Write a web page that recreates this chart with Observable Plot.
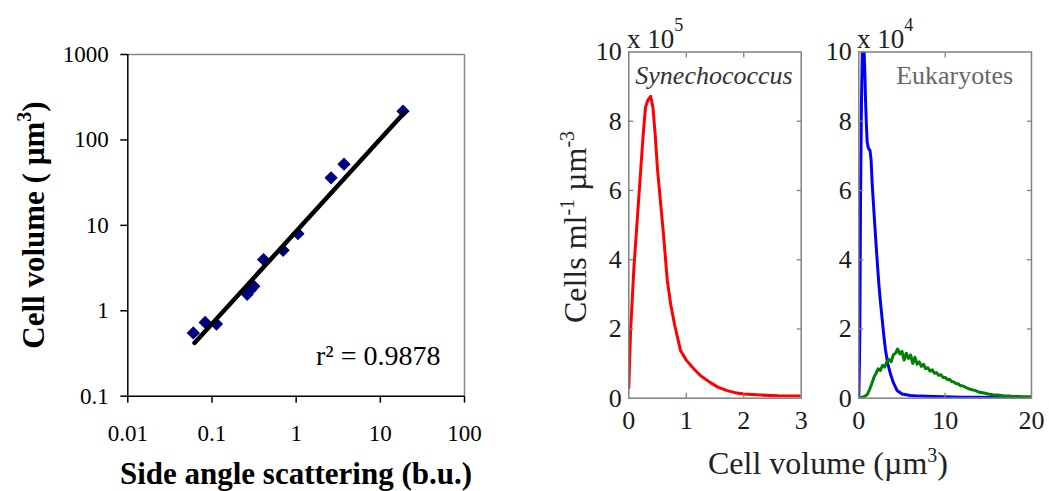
<!DOCTYPE html>
<html><head><meta charset="utf-8">
<script src="https://cdn.jsdelivr.net/npm/d3@7"></script>
<script src="https://cdn.jsdelivr.net/npm/@observablehq/plot@0.6"></script>
<style>
body{margin:0;background:#fff;}
#wrap{position:relative;width:1049px;height:491px;overflow:hidden;font-family:"Liberation Serif","Times New Roman",serif;background:#fff;}
#wrap svg{position:absolute;max-width:none;overflow:visible;background:transparent;}
#wrap svg text{font-family:"Liberation Serif","Times New Roman",serif;}
.t{position:absolute;white-space:nowrap;line-height:1;color:#111;}
</style></head><body><div id="wrap"></div>
<script>
// ---------- Panel A: scatter (log-log) ----------
const scatterX = [0.060, 0.083, 0.113, 0.262, 0.285, 0.314, 0.41, 0.70, 1.05, 2.6, 3.7, 18.6];
const scatterY = [0.55, 0.73, 0.70, 1.56, 1.75, 1.94, 3.97, 5.1, 8.0, 36, 52, 217];
const fitX = [0.062, 19.0];
const fitY = [0.42, 205];
const aXTicks = [0.01, 0.1, 1, 10, 100];
const aXLabels = ["0.01", "0.1", "1", "10", "100"];
const aYTicks = [0.1, 1, 10, 100, 1000];
const aYLabels = ["0.1", "1", "10", "100", "1000"];
const r2Label = "r² = 0.9878";

// ---------- Panel B: Synechococcus (x 10^5) ----------
const synX = [0, 0.03, 0.09, 0.17, 0.25, 0.29, 0.33, 0.38, 0.42, 0.46, 0.5, 0.55, 0.6, 0.67, 0.73, 0.8, 0.9, 1.0, 1.13, 1.25, 1.42, 1.55, 1.71, 1.85, 2.0, 2.3, 2.6, 3.0];
const synY = [0.3, 1.9, 3.8, 5.7, 7.6, 8.4, 8.6, 8.72, 8.4, 7.6, 6.6, 5.7, 4.8, 3.4, 2.7, 2.1, 1.38, 1.1, 0.85, 0.65, 0.45, 0.32, 0.22, 0.16, 0.12, 0.09, 0.07, 0.06];
const bXTicks = [0, 1, 2, 3];
const bXLabels = ["0", "1", "2", "3"];
const bYTicks = [0, 2, 4, 6, 8, 10];
const bYLabels = ["0", "2", "4", "6", "8", "10"];

// ---------- Panel C: Eukaryotes (x 10^4) ----------
const blueX = [0, 0.06, 0.12, 0.2, 0.31, 0.43, 0.58, 0.7, 0.78, 0.88, 0.97, 1.08, 1.16, 1.3, 1.42, 1.55, 1.75, 1.93, 2.12, 2.32, 2.5, 2.7, 2.9, 3.09, 3.35, 3.67, 4.0, 4.44, 5.0, 5.98, 7, 8.7, 10, 12, 14, 16, 18, 20];
const blueY = [0, 0.8, 1.9, 5.7, 8.6, 10.3, 10.3, 9.4, 8.6, 7.9, 7.4, 7.25, 7.2, 7.15, 6.9, 6.2, 5.4, 4.7, 4.0, 3.3, 2.8, 2.3, 1.8, 1.4, 1.0, 0.7, 0.45, 0.22, 0.12, 0.08, 0.06, 0.05, 0.04, 0.03, 0.03, 0.02, 0.02, 0.02];
const greenX = [0, 0.25, 0.5, 0.75, 1.0, 1.25, 1.5, 1.75, 2.0, 2.25, 2.5, 2.75, 3.0, 3.25, 3.5, 3.75, 4.0, 4.25, 4.5, 4.75, 5.0, 5.25, 5.5, 5.75, 6.0, 6.25, 6.5, 6.75, 7.0, 7.25, 7.5, 7.75, 8.0, 8.25, 8.5, 8.75, 9.0, 9.25, 9.5, 9.75, 10.0, 10.25, 10.5, 10.75, 11.0, 11.25, 11.5, 11.75, 12.0, 12.5, 13, 13.5, 14, 14.5, 15, 15.5, 16, 16.5, 17, 17.5, 18, 18.5, 19, 19.5, 20];
const greenY = [0.02, 0.02, 0.04, 0.06, 0.12, 0.25, 0.42, 0.6, 0.72, 0.85, 0.8, 0.95, 0.9, 1.05, 1.12, 1.05, 1.25, 1.3, 1.42, 1.28, 1.35, 1.1, 1.3, 1.15, 1.25, 1.0, 1.18, 0.98, 1.05, 0.92, 0.98, 0.85, 0.88, 0.78, 0.82, 0.72, 0.74, 0.66, 0.68, 0.6, 0.6, 0.54, 0.55, 0.48, 0.47, 0.42, 0.42, 0.36, 0.36, 0.3, 0.25, 0.22, 0.17, 0.15, 0.12, 0.1, 0.09, 0.08, 0.06, 0.06, 0.05, 0.05, 0.04, 0.04, 0.04];
const cXTicks = [0, 10, 20];
const cXLabels = ["0", "10", "20"];
const cYTicks = [0, 2, 4, 6, 8, 10];
const cYLabels = ["0", "2", "4", "6", "8", "10"];

const zip = (xs, ys) => xs.map((x, i) => ({x, y: ys[i]}));
const wrap = document.getElementById("wrap");
const FONT = "'Liberation Serif', 'Times New Roman', serif";

// Panel A
const plotA = Plot.plot({
  width: 490, height: 491,
  marginLeft: 127.3, marginRight: 26, marginTop: 54, marginBottom: 95.3,
  style: {fontFamily: FONT, fontSize: "23px", color: "#000", background: "transparent"},
  x: {type: "log", domain: [0.01, 100]},
  y: {type: "log", domain: [0.1, 1000]},
  marks: [
    Plot.ruleY([aYTicks[aYTicks.length - 1]], {stroke: "#888", strokeWidth: 1.5}),
    Plot.ruleX([aXTicks[aXTicks.length - 1]], {stroke: "#888", strokeWidth: 1.5}),
    Plot.ruleY([aYTicks[0]], {stroke: "#000", strokeWidth: 1.5}),
    Plot.ruleX([aXTicks[0]], {stroke: "#000", strokeWidth: 1.5}),
    Plot.axisX({ticks: aXTicks, tickSize: 7, tickPadding: 21, strokeWidth: 1.5, label: null, fontFamily: FONT,
      tickFormat: d => aXLabels[aXTicks.indexOf(d)]}),
    Plot.axisY({ticks: aYTicks, tickSize: 7, tickPadding: 12, strokeWidth: 1.5, label: null, fontFamily: FONT,
      tickFormat: d => aYLabels[aYTicks.indexOf(d)]}),
    Plot.dot(zip(scatterX, scatterY), {x: "x", y: "y", symbol: "diamond2", r: 6, fill: "#000080", stroke: "none"}),
    Plot.line(zip(fitX, fitY), {x: "x", y: "y", stroke: "#000", strokeWidth: 4.5}),
    Plot.text([r2Label], {text: d => d, frameAnchor: "bottom-right", textAnchor: "end", lineAnchor: "middle",
      dx: -24, dy: -40, fontSize: 28, fill: "#000", fontFamily: FONT})
  ]
});
plotA.style.left = "0px"; plotA.style.top = "0px";
wrap.appendChild(plotA);

function histPanel({left, width, mL, mR, xDomain, xTicks, xLabels, yTicks, yLabels, lines, label, labelStyle, labelDx, innerX}) {
  const p = Plot.plot({
    width, height: 491,
    marginLeft: mL, marginRight: mR, marginTop: 51.5, marginBottom: 93.3,
    style: {fontFamily: FONT, fontSize: "26px", color: "#1a1a1a", background: "transparent"},
    x: {domain: xDomain},
    y: {domain: [0, 10]},
    marks: [
      ...lines.map(l => Plot.line(zip(l.x, l.y), {x: "x", y: "y", stroke: l.color, strokeWidth: 3, clip: true})),
      Plot.frame({stroke: "#808080", strokeWidth: 1.5}),
      Plot.axisX({ticks: xTicks, tickSize: 0, tickPadding: 12, label: null, fontFamily: FONT, tickFormat: d => xLabels[xTicks.indexOf(d)]}),
      Plot.axisX({ticks: innerX, tickSize: -5, tickFormat: () => "", label: null, stroke: "#808080", strokeWidth: 1.3}),
      Plot.axisX({anchor: "top", ticks: innerX, tickSize: -5, tickFormat: () => "", label: null, stroke: "#808080", strokeWidth: 1.3}),
      Plot.axisY({ticks: yTicks, tickSize: 0, tickPadding: 7, label: null, fontFamily: FONT, tickFormat: d => yLabels[yTicks.indexOf(d)]}),
      Plot.axisY({ticks: yTicks.slice(1, -1), tickSize: -5, tickFormat: () => "", label: null, stroke: "#808080", strokeWidth: 1.3}),
      Plot.axisY({anchor: "right", ticks: yTicks.slice(1, -1), tickSize: -5, tickFormat: () => "", label: null, stroke: "#808080", strokeWidth: 1.3}),
      Plot.text([label], {text: d => d, frameAnchor: "top", lineAnchor: "top", dy: 14, dx: labelDx, fontSize: 26, fontFamily: FONT, ...labelStyle})
    ]
  });
  p.style.left = left + "px"; p.style.top = "0px";
  wrap.appendChild(p);
}

histPanel({left: 560, width: 250, mL: 68.3, mR: 9.3, xDomain: [0, 3], xTicks: bXTicks, xLabels: bXLabels, yTicks: bYTicks, yLabels: bYLabels, innerX: [1, 2],
  lines: [{x: synX, y: synY, color: "#ff0000"}],
  label: "Synechococcus", labelStyle: {fontStyle: "italic", fill: "#333"}, labelDx: -1});
histPanel({left: 820, width: 229, mL: 38.3, mR: 18, xDomain: [0, 20], xTicks: cXTicks, xLabels: cXLabels, yTicks: cYTicks, yLabels: cYLabels, innerX: [10],
  lines: [{x: blueX, y: blueY, color: "#0000ff"}, {x: greenX, y: greenY, color: "#008000"}],
  label: "Eukaryotes", labelStyle: {fill: "#666"}, labelDx: 9.5});

// HTML titles
function addText(html, css) {
  const d = document.createElement("div");
  d.className = "t"; d.innerHTML = html; Object.assign(d.style, css);
  wrap.appendChild(d);
}
addText('Side angle scattering (b.u.)', {left: "296px", top: "458px", transform: "translateX(-50%)", fontWeight: "bold", fontSize: "31px", color: "#000"});
addText('Cell volume ( µm<span style="font-size:20px;vertical-align:13px">3</span>)', {left: "31px", top: "225px", transform: "translate(-50%,-50%) rotate(-90deg)", fontWeight: "bold", fontSize: "31px", color: "#000"});
addText('Cell volume (µm<span style="font-size:20px;vertical-align:12px">3</span>)', {left: "828px", top: "445px", transform: "translateX(-50%)", fontSize: "32px", color: "#222"});
addText('Cells ml<span style="font-size:20px;vertical-align:12px">-1</span> µm<span style="font-size:20px;vertical-align:12px">-3</span>', {left: "574px", top: "227px", transform: "translate(-50%,-50%) rotate(-90deg)", fontSize: "32px", color: "#222"});
addText('x 10<span style="font-size:18px;vertical-align:17px">5</span>', {left: "627px", top: "16px", fontSize: "27px", color: "#222"});
addText('x 10<span style="font-size:18px;vertical-align:17px">4</span>', {left: "857px", top: "16px", fontSize: "27px", color: "#222"});
</script></body></html>
